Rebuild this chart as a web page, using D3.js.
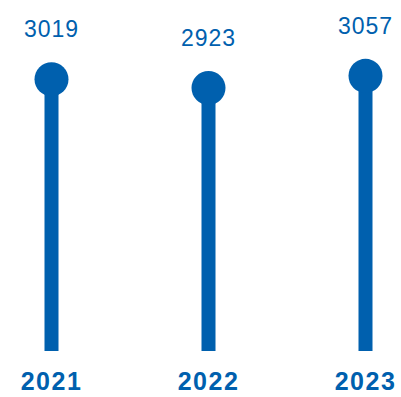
<html>
<head>
<script src="https://d3js.org/d3.v7.min.js"></script>
<style>
  body { margin: 0; background: #fff; }
</style>
</head>
<body>
<svg width="401" height="397"></svg>
<script>
  const years = ['2021', '2022', '2023'];
  const values = [3019, 2923, 3057];

  const blue = '#0060ae';

  const x = d3.scalePoint().domain(years).range([51.5, 365.5]);
  // zero based scale, bottom of stems at 351
  const y = d3.scaleLinear().domain([0, 3000]).range([351, 81]);

  const svg = d3.select('svg');
  const data = years.map((d, i) => ({ year: d, value: values[i] }));

  svg.selectAll('line.stem')
    .data(data)
    .enter()
    .append('line')
    .attr('class', 'stem')
    .attr('x1', d => x(d.year))
    .attr('x2', d => x(d.year))
    .attr('y1', y(0))
    .attr('y2', d => y(d.value))
    .attr('stroke', blue)
    .attr('stroke-width', 14);

  svg.selectAll('circle')
    .data(data)
    .enter()
    .append('circle')
    .attr('cx', d => x(d.year))
    .attr('cy', d => y(d.value))
    .attr('r', 17)
    .attr('fill', blue);

  svg.selectAll('text.val')
    .data(data)
    .enter()
    .append('text')
    .attr('class', 'val')
    .attr('x', d => x(d.year))
    .attr('y', d => y(d.value) - 42)
    .attr('text-anchor', 'middle')
    .style('font-family', 'Liberation Sans, Arial, sans-serif')
    .style('font-size', '23px')
    .style('letter-spacing', '1px')
    .attr('fill', blue)
    .text(d => d.value);

  svg.selectAll('text.year')
    .data(data)
    .enter()
    .append('text')
    .attr('class', 'year')
    .attr('x', d => x(d.year))
    .attr('y', 390)
    .attr('text-anchor', 'middle')
    .style('font-family', 'Liberation Sans, Arial, sans-serif')
    .style('font-size', '25px')
    .style('font-weight', 'bold')
    .style('letter-spacing', '1.5px')
    .attr('fill', blue)
    .text(d => d.year);
</script>
</body>
</html>
